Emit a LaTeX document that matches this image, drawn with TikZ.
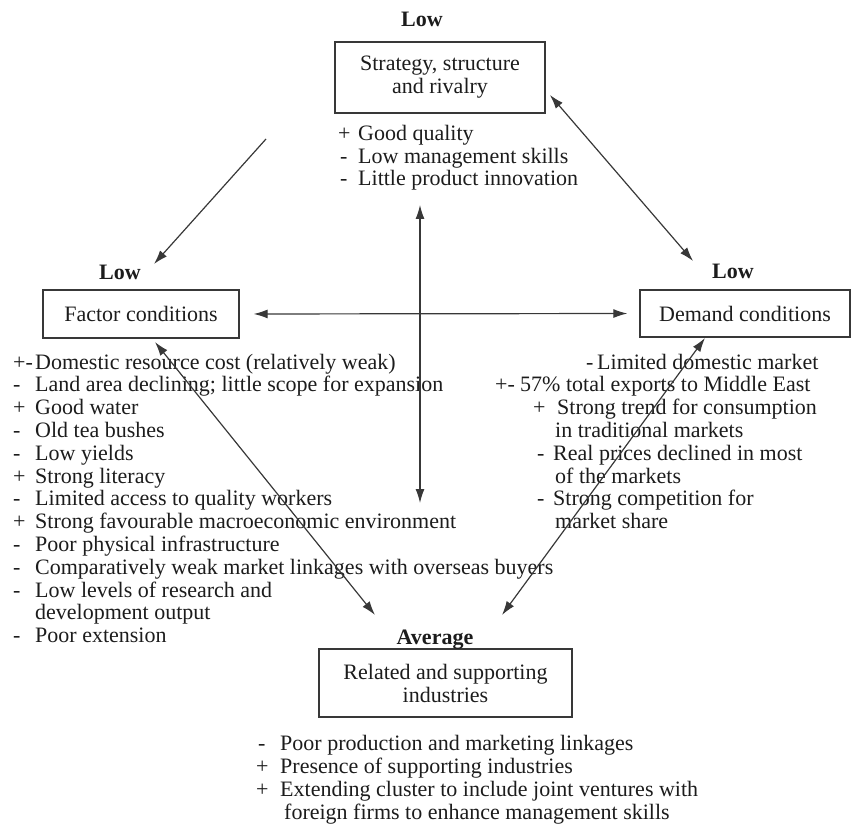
\documentclass[tikz,border=0pt]{standalone}
\usepackage{fontspec}
\setmainfont{Liberation Serif}
\usetikzlibrary{arrows.meta}
\definecolor{ink}{HTML}{1C1C1C}
\definecolor{edge}{HTML}{383838}
\begin{document}
\begin{tikzpicture}[x=1pt,y=-1pt,
  every node/.style={font=\fontsize{22}{23}\selectfont, text=ink},
  txt/.style={anchor=base west, inner sep=0pt},
  lvl/.style={anchor=base, inner sep=0pt, font=\fontsize{22}{23}\selectfont\bfseries},
  factor/.style={draw=edge, line width=1.3pt, inner sep=0pt, align=center},
  link/.style={draw=edge, line width=1.2pt,
    {Latex[length=14pt,width=9pt]}-{Latex[length=14pt,width=9pt]}},
  oneway/.style={draw=edge, line width=1.2pt, -{Latex[length=14pt,width=9pt]}}]

\useasboundingbox (0,0) rectangle (854,826);

% ---- the four corners of the diamond ----
\node[factor, minimum width=210pt, minimum height=71pt] (ssr) at (440,77.5)
  {Strategy, structure\\and rivalry};
\node[factor, minimum width=196pt, minimum height=48pt] (fc) at (141,314)
  {Factor conditions};
\node[factor, minimum width=210pt, minimum height=47pt] (dc) at (745,313.5)
  {Demand conditions};
\node[factor, minimum width=253pt, minimum height=68pt] (rsi) at (445.5,683)
  {Related and supporting\\industries};

% ---- ratings ----
\node[lvl] (lowtop) at (422,27) {Low};
\node[lvl] (lowleft) at (120,280) {Low};
\node[lvl] (lowright) at (733,279) {Low};
\node[lvl] (avg) at (435,644) {Average};

% ---- strategy, structure and rivalry ----
\node[txt] (sm0) at (338,141) {+};
\node[txt] (st0) at (358,141) {Good quality};
\node[txt] (sm1) at (340,164) {-};
\node[txt] (st1) at (358,164) {Low management skills};
\node[txt] (sm2) at (340,186) {-};
\node[txt] (st2) at (358,186) {Little product innovation};

% ---- factor conditions ----
\foreach \m/\t [count=\i from 0] in {
  {+-}/{Domestic resource cost (relatively weak)},
  {-}/{Land area declining; little scope for expansion},
  {+}/{Good water},
  {-}/{Old tea bushes},
  {-}/{Low yields},
  {+}/{Strong literacy},
  {-}/{Limited access to quality workers},
  {+}/{Strong favourable macroeconomic environment},
  {-}/{Poor physical infrastructure},
  {-}/{Comparatively weak market linkages with overseas buyers},
  {-}/{Low levels of research and},
  {}/{development output},
  {-}/{Poor extension}}
{
  \node[txt] (fm\i) at (13,369+22.8*\i) {\m};
  \node[txt] (ft\i) at (35,369+22.8*\i) {\t};
}

% ---- demand conditions ----
\node[txt] (dm0) at (586,369) {-};
\node[txt] (dt0) at (597,369) {Limited domestic market};
\node[txt] (dm1) at (495,391.8) {+-};
\node[txt] (dt1) at (520,391.8) {57\% total exports to Middle East};
\node[txt] (dm2) at (533,414.6) {+};
\node[txt] (dt2) at (557,414.6) {Strong trend for consumption};
\node[txt] (dt3) at (555,437.4) {in traditional markets};
\node[txt] (dm4) at (537,460.2) {-};
\node[txt] (dt4) at (553,460.2) {Real prices declined in most};
\node[txt] (dt5) at (555,483) {of the markets};
\node[txt] (dm6) at (537,505.8) {-};
\node[txt] (dt6) at (553,505.8) {Strong competition for};
\node[txt] (dt7) at (555,528.6) {market share};

% ---- related and supporting industries ----
\node[txt] (rm0) at (258,750) {-};
\node[txt] (rt0) at (280,750) {Poor production and marketing linkages};
\node[txt] (rm1) at (256,773) {+};
\node[txt] (rt1) at (280,773) {Presence of supporting industries};
\node[txt] (rm2) at (256,796) {+};
\node[txt] (rt2) at (280,796) {Extending cluster to include joint ventures with};
\node[txt] (rt3) at (284,819) {foreign firms to enhance management skills};

% ---- arrow ends ----
\coordinate (tlA) at (266,139);
\coordinate (tlB) at (154,264);
\coordinate (trA) at (550,95);
\coordinate (trB) at (693,261);
\coordinate (vA) at (420,205);
\coordinate (vB) at (420,503);
\coordinate (fdA) at (155,342);
\coordinate (fdB) at (375,615);
\coordinate (ddA) at (705,338);
\coordinate (ddB) at (502,615);

% ---- links of the diamond ----
\draw[oneway] (tlA) -- (tlB);
\draw[link] (trA) -- (trB);
\draw[link, shorten <=14pt, shorten >=12pt] (fc.east) -- (dc.west);
\draw[link] (vA) -- (vB);
\draw[link] (fdA) -- (fdB);
\draw[link] (ddA) -- (ddB);
\end{tikzpicture}
\end{document}
